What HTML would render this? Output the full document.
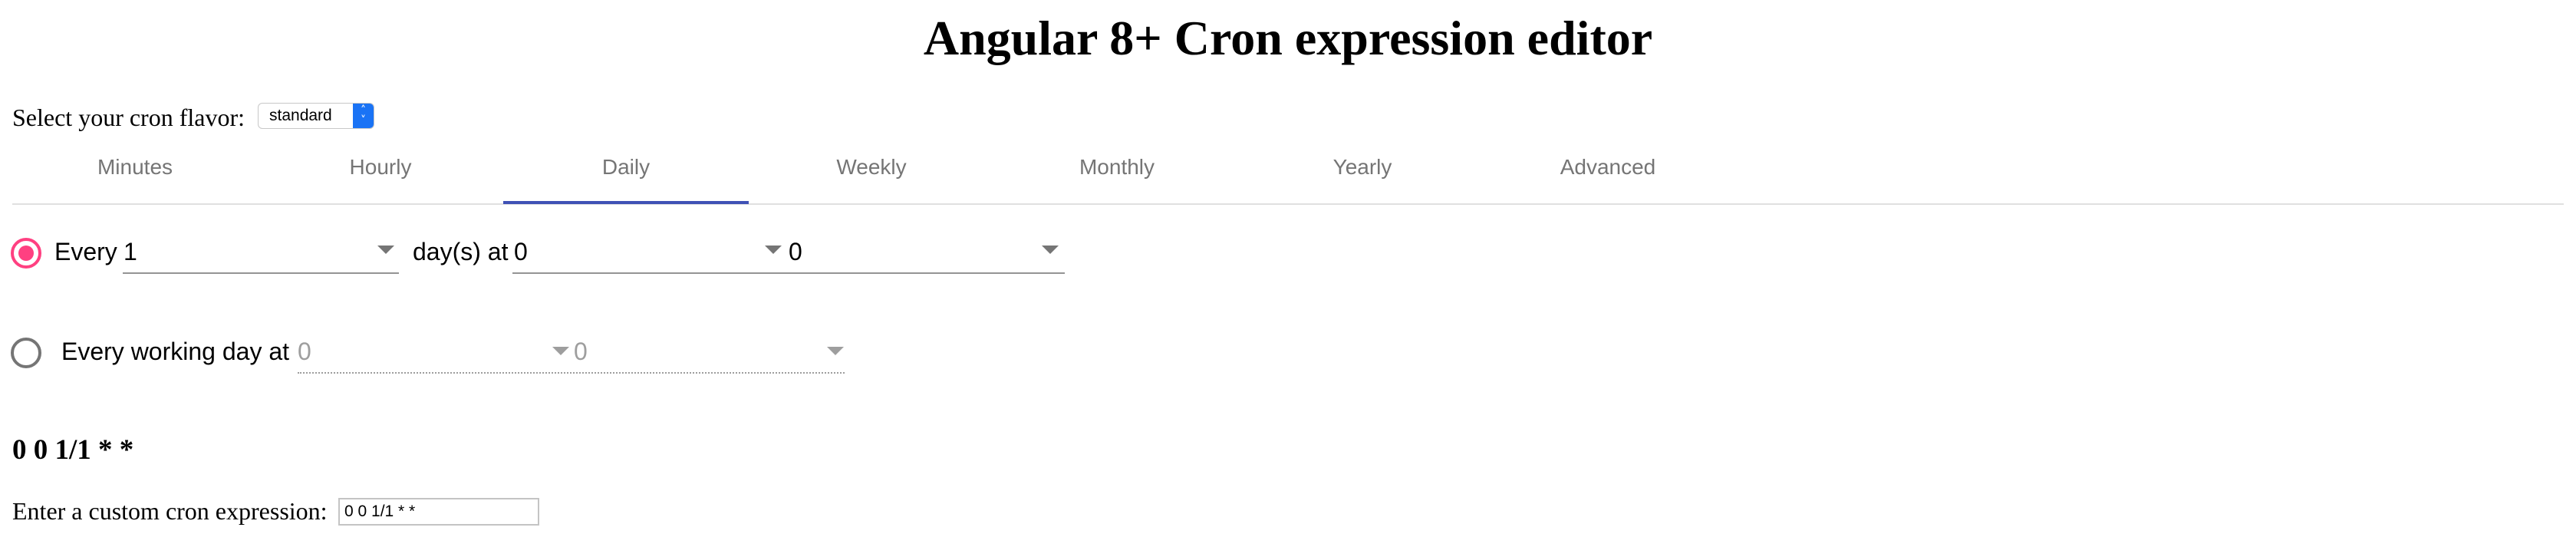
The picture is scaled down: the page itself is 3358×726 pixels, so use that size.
<!DOCTYPE html>
<html><head><meta charset="utf-8"><style>
html,body{margin:0;padding:0;background:#fff;width:3358px;height:726px;overflow:hidden;position:relative}
.a{position:absolute;white-space:nowrap}
.serif{font-family:"Liberation Serif",serif;color:#000}
.sans{font-family:"Liberation Sans",sans-serif}
.tab{position:absolute;top:200px;width:320px;text-align:center;font-family:"Liberation Sans",sans-serif;font-size:28px;line-height:36px;color:#757575}
.ul{position:absolute;height:2px;background:#949494}
.arr{position:absolute;width:0;height:0;border-left:11px solid transparent;border-right:11px solid transparent;border-top:11px solid #757575}
.arr.g{border-top-color:#9e9e9e}
</style></head><body>
<div class="a serif" style="left:0;width:3358px;text-align:center;top:10px;font-size:64px;font-weight:bold;line-height:80px">Angular 8+ Cron expression editor</div>

<div class="a serif" style="left:16px;top:133px;font-size:32px;line-height:40px">Select your cron flavor:</div>
<div class="a" style="left:336px;top:134px;width:152px;height:34px;border:1px solid #c8c8c8;border-radius:6px;box-sizing:border-box;background:#fff;overflow:hidden">
  <div class="a sans" style="left:14px;top:0;line-height:32px;font-size:21px;color:#000">standard</div>
  <div class="a" style="right:0;top:0;width:27px;height:34px;background:#1a73f5;color:#fff;font-family:'DejaVu Sans',sans-serif;font-size:14px;line-height:13px;text-align:center;padding-top:3px;box-sizing:border-box">&#708;<br>&#709;</div>
</div>

<div class="tab" style="left:16px">Minutes</div>
<div class="tab" style="left:336px">Hourly</div>
<div class="tab" style="left:656px">Daily</div>
<div class="tab" style="left:976px">Weekly</div>
<div class="tab" style="left:1296px">Monthly</div>
<div class="tab" style="left:1616px">Yearly</div>
<div class="tab" style="left:1936px">Advanced</div>
<div class="a" style="left:16px;top:265px;width:3326px;height:2px;background:#e0e0e0"></div>
<div class="a" style="left:656px;top:262px;width:320px;height:4px;background:#3f51b5"></div>

<!-- row 1 -->
<div class="a" style="left:14px;top:310px;width:40px;height:40px;border:4px solid #ff4081;border-radius:50%;box-sizing:border-box"></div>
<div class="a" style="left:24px;top:320px;width:20px;height:20px;background:#ff4081;border-radius:50%"></div>
<div class="a sans" style="left:71px;top:308px;font-size:32px;line-height:40px;color:#000">Every</div>
<div class="a sans" style="left:161px;top:308px;font-size:32px;line-height:40px;color:#000">1</div>
<div class="arr" style="left:492px;top:320px"></div>
<div class="ul" style="left:160px;top:355px;width:360px"></div>
<div class="a sans" style="left:538px;top:308px;font-size:32px;line-height:40px;color:#000">day(s) at</div>
<div class="a sans" style="left:670px;top:308px;font-size:32px;line-height:40px;color:#000">0</div>
<div class="arr" style="left:997px;top:320px"></div>
<div class="a sans" style="left:1028px;top:308px;font-size:32px;line-height:40px;color:#000">0</div>
<div class="arr" style="left:1358px;top:320px"></div>
<div class="ul" style="left:668px;top:355px;width:720px"></div>

<!-- row 2 -->
<div class="a" style="left:14px;top:440px;width:40px;height:40px;border:4px solid #757575;border-radius:50%;box-sizing:border-box"></div>
<div class="a sans" style="left:80px;top:438px;font-size:32px;line-height:40px;color:#000">Every working day at</div>
<div class="a sans" style="left:388px;top:438px;font-size:32px;line-height:40px;color:#9e9e9e">0</div>
<div class="arr g" style="left:720px;top:452px"></div>
<div class="a sans" style="left:748px;top:438px;font-size:32px;line-height:40px;color:#9e9e9e">0</div>
<div class="arr g" style="left:1078px;top:452px"></div>
<div class="a" style="left:388px;top:485px;width:713px;height:0;border-top:2px dotted #9e9e9e"></div>

<div class="a serif" style="left:16px;top:564px;font-size:37px;font-weight:bold;line-height:46px">0 0 1/1 * *</div>

<div class="a serif" style="left:16px;top:646px;font-size:32px;line-height:40px">Enter a custom cron expression:</div>
<div class="a" style="left:441px;top:649px;width:262px;height:36px;border:2px solid #c4c4c4;box-sizing:border-box">
  <div class="a sans" style="left:6px;top:0;line-height:32px;font-size:21px;color:#000">0 0 1/1 * *</div>
</div>
</body></html>
